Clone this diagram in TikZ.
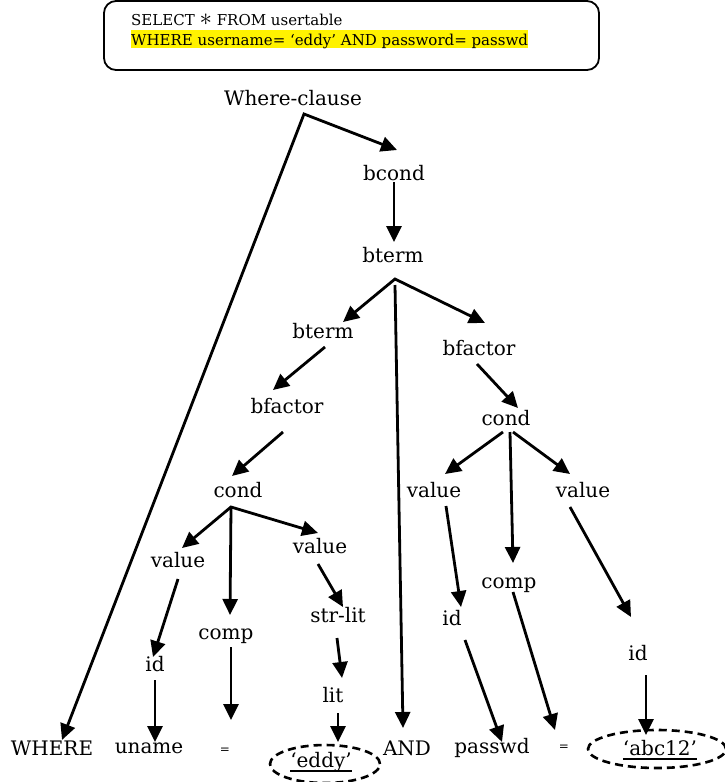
\documentclass[tikz,border=0pt]{standalone}
\usepackage{fontspec}
\setmainfont{DejaVu Serif}
\usetikzlibrary{arrows.meta,calc}
\begin{document}
\begin{tikzpicture}[x=1pt,y=-1pt,
  lbl/.style={font=\fontsize{20}{24}\selectfont, inner sep=0pt, anchor=base},
  eqsign/.style={font=\fontsize{12}{14}\selectfont, inner sep=0pt, anchor=base},
  sqltext/.style={font=\fontsize{15}{18}\selectfont, inner sep=0pt, anchor=base west},
  tipshape/.tip={Triangle[length=16pt,width=15pt]},
  arr/.style={line width=2.8pt, -tipshape},
  fork/.style={line width=2.8pt, tipshape-tipshape, line join=miter},
  ring/.style={line width=2.6pt, dash pattern=on 8pt off 5pt},
  uline/.style={line width=1.6pt}]
\useasboundingbox (0,0) rectangle (725,782);

% query box
\node[draw, rounded corners=12pt, line width=1.8pt, minimum width=495pt,
      minimum height=69pt, inner sep=0pt] (query) at (351.5,35.5) {};
\node[sqltext] (sql1) at (131,25)
  {SELECT {\fontsize{26}{26}\selectfont$\ast$} FROM usertable};
\node[sqltext, fill=yellow, text height=15pt, text depth=3pt] (sql2) at (131,45)
  {WHERE username= ‘eddy’ AND password= passwd};

% parse tree labels
\node[lbl] (wc)    at (293,105) {Where-clause};
\node[lbl] (bcond) at (394,180) {bcond};
\node[lbl] (bt1)   at (393,262) {bterm};
\node[lbl] (bt2)   at (323,338) {bterm};
\node[lbl] (bf1)   at (287,413) {bfactor};
\node[lbl] (c1)    at (238,497) {cond};
\node[lbl] (v1)    at (178,567) {value};
\node[lbl] (v2)    at (320,553) {value};
\node[lbl] (id1)   at (155,671) {id};
\node[lbl] (comp1) at (226,639) {comp};
\node[lbl] (sl)    at (338,622) {str-lit};
\node[lbl] (lit)   at (333,702) {lit};
\node[lbl] (bf2)   at (479,355) {bfactor};
\node[lbl] (c2)    at (506,425) {cond};
\node[lbl] (v3)    at (434,497) {value};
\node[lbl] (v4)    at (583,497) {value};
\node[lbl] (id2)   at (452,625) {id};
\node[lbl] (comp2) at (509,588) {comp};
\node[lbl] (id3)   at (638,660) {id};

% leaves
\node[lbl] (where)  at (52,755)  {WHERE};
\node[lbl] (uname)  at (149,753) {uname};
\node[eqsign] (eq1) at (225,753) {=};
\node[lbl] (eddy)   at (321,767) {‘eddy’};
\node[lbl] (and)    at (407,755) {AND};
\node[lbl] (passwd) at (492,753) {passwd};
\node[eqsign] (eq2) at (564,750) {=};
\node[lbl] (abc)    at (660,755) {‘abc12’};

\draw[uline] ($(eddy.base west)+(0,4)$) -- ($(eddy.base east)+(0,4)$);
\draw[uline] ($(abc.base west)+(0,4)$) -- ($(abc.base east)+(0,4)$);
\draw[ring] ($(eddy.base)+(4,-3)$) ellipse [x radius=55pt, y radius=19pt];
\draw[ring] ($(abc.base)+(-3,-6)$) ellipse [x radius=69pt, y radius=19pt];

% branch points
\coordinate (wcA) at ($(wc.base)+(11,9)$);
\coordinate (bt1A) at ($(bt1.base)+(2,17)$);
\coordinate (c1A) at ($(c1.base)+(-7,10)$);

% connectors
\draw[fork] ($(where.base)+(10,-15)$) -- (wcA) -- ($(bcond.base)+(3,-30)$);
\draw[arr] ($(bcond.base)+(0,2)$) -- ($(bt1.base)+(1,-20)$);
\draw[fork] ($(bt2.base)+(20,-16)$) -- (bt1A) -- ($(bf2.base)+(6,-32)$);
\draw[arr] ($(bt1A)+(0,6)$) -- ($(and.base)+(-4,-27)$);
\draw[arr] ($(bt2.base)+(2,9)$) -- ($(bf1.base)+(-14,-23)$);
\draw[arr] ($(bf1.base)+(-4,19)$) -- ($(c1.base)+(-6,-21)$);
\draw[fork] ($(v1.base)+(4,-19)$) -- (c1A) -- ($(v2.base)+(-2,-20)$);
\draw[arr] (c1A) -- ($(comp1.base)+(4,-24)$);
\draw[arr] ($(v1.base)+(0,12)$) -- ($(id1.base)+(-2,-14)$);
\draw[arr] ($(id1.base)+(0,9)$) -- ($(uname.base)+(6,-11)$);
\draw[arr] ($(comp1.base)+(5,8)$) -- ($(eq1.base)+(6,-33)$);
\draw[arr] ($(v2.base)+(-2,11)$) -- ($(sl.base)+(5,-15)$);
\draw[arr] ($(sl.base)+(-1,16)$) -- ($(lit.base)+(9,-24)$);
\draw[arr] ($(lit.base)+(5,11)$) -- ($(eddy.base)+(17,-25)$);
\draw[arr] ($(bf2.base)+(-2,9)$) -- ($(c2.base)+(12,-17)$);
\draw[arr] ($(c2.base)+(-3,7)$) -- ($(v3.base)+(11,-23)$);
\draw[arr] ($(c2.base)+(4,7)$) -- ($(comp2.base)+(4,-25)$);
\draw[arr] ($(c2.base)+(7,7)$) -- ($(v4.base)+(-13,-23)$);
\draw[arr] ($(v3.base)+(12,9)$) -- ($(id2.base)+(9,-18)$);
\draw[arr] ($(id2.base)+(13,15)$) -- ($(passwd.base)+(10,-11)$);
\draw[arr] ($(comp2.base)+(4,4)$) -- ($(eq2.base)+(-9,-20)$);
\draw[arr] ($(v4.base)+(-13,10)$) -- ($(id3.base)+(-7,-43)$);
\draw[arr] ($(id3.base)+(8,15)$) -- ($(abc.base)+(-14,-20)$);
\end{tikzpicture}
\end{document}
